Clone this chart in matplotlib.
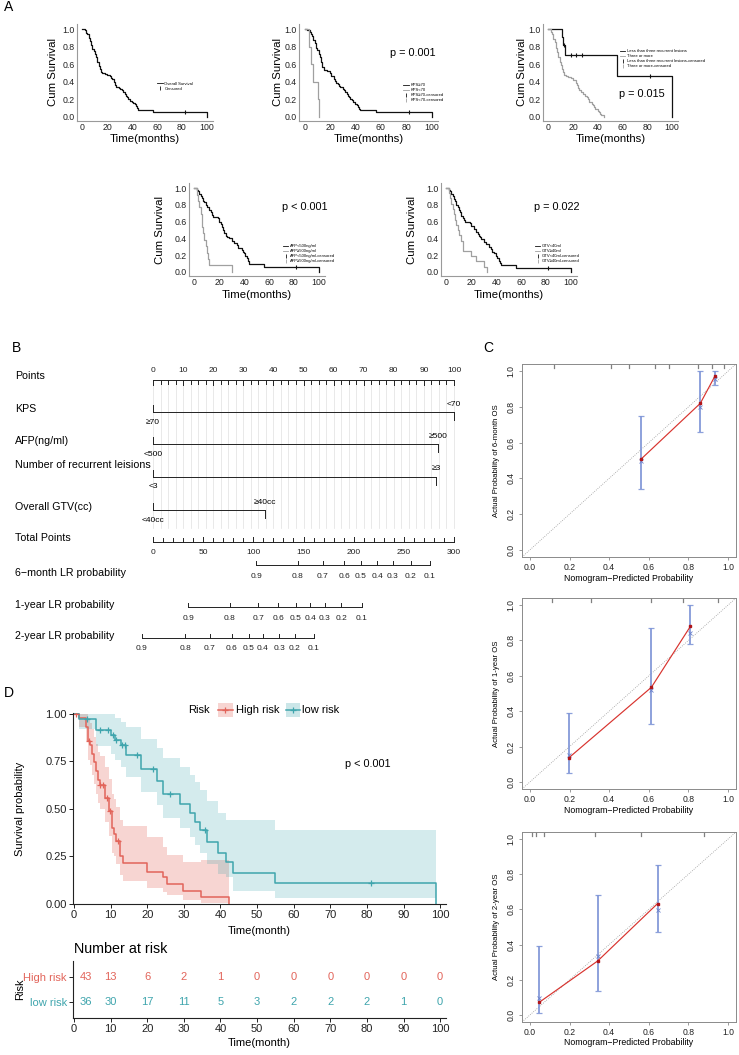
import numpy as np
import matplotlib
matplotlib.use('Agg')
import matplotlib.pyplot as plt
from matplotlib.lines import Line2D
from matplotlib.patches import Rectangle

plt.rcParams['font.family'] = ['Liberation Sans', 'DejaVu Sans']

# ------------------------------------------------------------------ data
# Panel A: Kaplan-Meier curves (time in months, survival)
os_t = [0, 2, 3, 4, 5, 6, 7, 8, 9, 10, 11, 12, 13, 14, 15, 16, 18, 20, 22, 23, 24, 25, 26, 27, 29, 30,
        32, 33, 34, 35, 36, 37, 38, 40, 41, 42, 43, 44, 45, 57, 100]
os_s = [1.0, 0.99, 0.96, 0.94, 0.90, 0.86, 0.82, 0.77, 0.75, 0.72, 0.68, 0.63, 0.58, 0.54, 0.51, 0.50, 0.49,
        0.48, 0.47, 0.44, 0.43, 0.40, 0.36, 0.34, 0.33, 0.32, 0.30, 0.28, 0.26, 0.24, 0.22, 0.20, 0.18, 0.17,
        0.16, 0.14, 0.12, 0.10, 0.075, 0.05, 0.0]
os_cens = [82.5]

kps_hi_t = [0, 2, 4, 5, 6, 7, 8, 9, 10, 11, 12, 13, 14, 15, 18, 20, 21, 22, 23, 24, 25, 26, 27, 28, 30, 31,
            32, 33, 34, 35, 36, 37, 38, 40, 41, 42, 43, 44, 56, 100]
kps_hi_s = [1.0, 0.99, 0.97, 0.95, 0.92, 0.88, 0.84, 0.79, 0.76, 0.72, 0.68, 0.63, 0.57, 0.53, 0.52, 0.50,
            0.47, 0.46, 0.43, 0.41, 0.38, 0.37, 0.35, 0.34, 0.32, 0.30, 0.28, 0.26, 0.24, 0.22, 0.20, 0.19,
            0.17, 0.15, 0.13, 0.11, 0.09, 0.08, 0.053, 0.0]
kps_hi_cens = [82]
kps_lo_t = [0, 3.5, 5.4, 6.7, 10.7, 11.5]
kps_lo_s = [1.0, 0.8, 0.6, 0.4, 0.2, 0.0]

les_lo_t = [0, 10.8, 12.0, 13.8, 55.4, 100]
les_lo_s = [1.0, 0.91, 0.82, 0.71, 0.465, 0.0]
les_lo_cens = [12.4, 18, 22.7, 26.8, 82]
les_hi_t = [0, 2, 3, 4, 5, 6, 7, 8, 9, 10, 11, 12, 13, 14, 16, 18, 20, 22, 23, 24, 25, 26, 28, 30, 31, 32,
            33, 35, 36, 37, 38, 40, 41, 42, 43, 45]
les_hi_s = [1.0, 0.97, 0.94, 0.89, 0.85, 0.79, 0.74, 0.68, 0.63, 0.59, 0.55, 0.51, 0.48, 0.46, 0.45, 0.44,
            0.42, 0.39, 0.36, 0.33, 0.30, 0.28, 0.26, 0.24, 0.22, 0.20, 0.17, 0.15, 0.13, 0.11, 0.09, 0.07,
            0.05, 0.03, 0.015, 0.0]

afp_lo_t = [0, 2, 3, 4, 5, 6, 7, 8, 9, 10, 12, 13, 14, 15, 17, 19, 20, 21, 22, 23, 24, 25, 26, 28, 30, 32,
            34, 35, 36, 38, 39, 40, 41, 42, 43, 44, 56, 100]
afp_lo_s = [1.0, 0.98, 0.96, 0.93, 0.91, 0.88, 0.85, 0.83, 0.80, 0.77, 0.74, 0.71, 0.68, 0.66, 0.65, 0.64,
            0.60, 0.57, 0.54, 0.50, 0.46, 0.43, 0.42, 0.40, 0.37, 0.34, 0.32, 0.29, 0.28, 0.26, 0.24, 0.22,
            0.19, 0.16, 0.13, 0.09, 0.06, 0.0]
afp_lo_cens = [82]
afp_hi_t = [0, 2, 3, 4, 5, 6, 7, 8, 9, 10, 11, 12, 30]
afp_hi_s = [1.0, 0.92, 0.85, 0.77, 0.69, 0.54, 0.46, 0.38, 0.31, 0.23, 0.15, 0.077, 0.0]

gtv_lo_t = [0, 2, 3, 4, 5, 6, 7, 8, 9, 10, 11, 12, 13, 14, 15, 17, 19, 20, 22, 24, 25, 26, 27, 28, 30, 32,
            34, 36, 37, 38, 40, 41, 42, 43, 44, 56, 100]
gtv_lo_s = [1.0, 0.98, 0.96, 0.93, 0.90, 0.87, 0.84, 0.80, 0.77, 0.74, 0.71, 0.67, 0.64, 0.62, 0.60, 0.59,
            0.58, 0.55, 0.51, 0.48, 0.45, 0.43, 0.41, 0.39, 0.36, 0.33, 0.30, 0.27, 0.24, 0.22, 0.19, 0.16,
            0.13, 0.10, 0.08, 0.05, 0.0]
gtv_lo_cens = [82]
gtv_hi_t = [0, 2, 3, 4, 5, 6, 7, 8, 9, 10, 12, 13, 20, 24, 30, 33]
gtv_hi_s = [1.0, 0.94, 0.88, 0.81, 0.75, 0.69, 0.62, 0.56, 0.50, 0.44, 0.37, 0.25, 0.19, 0.125, 0.06, 0.0]

# Panel B: nomogram
points_ticks = [0, 10, 20, 30, 40, 50, 60, 70, 80, 90, 100]
nomo_vars = ['KPS', 'AFP(ng/ml)', 'Number of recurrent leisions', 'Overall GTV(cc)']
var_points = [[0, 100], [0, 94.7], [0, 94.0], [0, 37.1]]
var_levels = [['≥70', '<70'], ['<500', '≥500'], ['<3', '≥3'], ['<40cc', '≥40cc']]
total_ticks = [0, 50, 100, 150, 200, 250, 300]
prob_rows = ['6−month LR probability', '1-year LR probability', '2-year LR probability']
prob_labels = ['0.9', '0.8', '0.7', '0.6', '0.5', '0.4', '0.3', '0.2', '0.1']
prob_total = [[103, 144.5, 169.4, 190.4, 207.3, 223.3, 239.2, 257.1, 276.1],
              [34.9, 76.7, 104.7, 124.6, 142.5, 156.5, 171.4, 187.4, 208.3],
              [-11, 31.9, 56.8, 78.7, 95.7, 109.6, 125.6, 141.5, 160.5]]

# Panel C: calibration
cal_names = ['6-month', '1-year', '2-year']
cal_pred = [[0.563, 0.86, 0.935], [0.197, 0.613, 0.81], [0.046, 0.342, 0.644]]
cal_obs = [[0.51, 0.82, 0.975], [0.137, 0.535, 0.88], [0.071, 0.307, 0.633]]
cal_lo = [[0.34, 0.66, 0.92], [0.05, 0.33, 0.78], [0.013, 0.137, 0.473]]
cal_hi = [[0.75, 1.0, 1.0], [0.39, 0.87, 1.0], [0.39, 0.68, 0.85]]
cal_km = [[0.50, 0.80, 0.955], [0.155, 0.52, 0.84], [0.094, 0.336, 0.598]]
cal_rug = [[0.12, 0.41, 0.50, 0.63, 0.70, 0.85, 0.92, 0.98],
           [0.11, 0.31, 0.61, 0.77, 0.95],
           [0.01, 0.03, 0.07, 0.33, 0.56, 0.88]]

# Panel D: risk groups
high_t = [0, 1.5, 3.3, 3.8, 4.5, 5.0, 5.5, 6.0, 6.5, 7.0, 8.5, 9.5, 10.5, 10.9, 11.4, 12.6, 13.4, 19.9,
          24.4, 25.3, 29.7, 34.6, 42.3]
high_s = [1.0, 0.977, 0.93, 0.86, 0.837, 0.79, 0.745, 0.70, 0.65, 0.628, 0.56, 0.49, 0.40, 0.37, 0.33,
          0.25, 0.215, 0.17, 0.14, 0.105, 0.07, 0.035, 0.0]
high_lo = [1.0, 0.93, 0.86, 0.76, 0.73, 0.68, 0.63, 0.58, 0.53, 0.50, 0.43, 0.36, 0.27, 0.25, 0.21, 0.15,
           0.12, 0.085, 0.065, 0.045, 0.02, 0.005, 0.0]
high_hi = [1.0, 1.0, 1.0, 0.97, 0.95, 0.92, 0.88, 0.84, 0.80, 0.78, 0.72, 0.66, 0.58, 0.55, 0.51, 0.44,
           0.41, 0.35, 0.30, 0.26, 0.22, 0.23, 0.0]
high_cens = [0.5, 4.2, 7.1, 8.0, 8.9, 9.8, 12.0]
low_t = [0, 1.5, 6.1, 10.2, 11.1, 12.8, 14.3, 18.4, 22.8, 24.4, 29.0, 31.7, 33.1, 34.3, 36.4, 39.4, 41.5,
         43.5, 55.0, 99.0]
low_s = [1.0, 0.972, 0.917, 0.89, 0.862, 0.835, 0.786, 0.71, 0.645, 0.577, 0.526, 0.477, 0.433, 0.389,
         0.328, 0.27, 0.22, 0.165, 0.11, 0.0]
low_lo = [1.0, 0.92, 0.83, 0.79, 0.76, 0.72, 0.67, 0.59, 0.52, 0.45, 0.40, 0.35, 0.31, 0.27, 0.21, 0.16,
          0.14, 0.07, 0.03, 0.0]
low_hi = [1.0, 1.0, 1.0, 1.0, 0.98, 0.96, 0.93, 0.87, 0.82, 0.77, 0.72, 0.68, 0.64, 0.60, 0.54, 0.48,
          0.44, 0.44, 0.39, 0.0]
low_cens = [3.6, 7.1, 9.4, 10.7, 11.6, 13.2, 13.9, 17.2, 21.7, 26.2, 35.8, 81.1]
risk_times = [0, 10, 20, 30, 40, 50, 60, 70, 80, 90, 100]
risk_high = [43, 13, 6, 2, 1, 0, 0, 0, 0, 0, 0]
risk_low = [36, 30, 17, 11, 5, 3, 2, 2, 2, 1, 0]

# ------------------------------------------------------------------ layout helpers
W, H = 739, 1055
fig = plt.figure(figsize=(W / 100, H / 100), dpi=100)


def add_ax(l, t, r, b):
    return fig.add_axes([l / W, 1 - b / H, (r - l) / W, (b - t) / H])


def ftext(x, y, s, **kw):
    fig.text(x / W, 1 - y / H, s, **kw)


def step_at(t_arr, s_arr, x):
    idx = np.searchsorted(np.asarray(t_arr, float), np.asarray(x, float), side='right') - 1
    return np.asarray(s_arr, float)[idx]


RED = '#E2645A'
TEAL = '#3FA5AD'
DARK = '#111111'
LIGHT = '#A0A0A0'

# ------------------------------------------------------------------ panel labels
for lab, x, y in [('A', 4, 7), ('B', 12, 348), ('C', 483, 348), ('D', 4, 693)]:
    ftext(x, y, lab, fontsize=10, ha='left', va='center')

# ------------------------------------------------------------------ panel A


def km_small(box, curves, leg_labels, leg_handles, leg_xy, pval=None, pval_xy=None, ylab_x=-0.17, xlab_y=-0.19):
    ax = add_ax(*box)
    ax.set_xlim(-4.4, 105)
    ax.set_ylim(-0.05, 1.06)
    for tt, ss, cens, col in curves:
        ax.step(tt, ss, where='post', color=col, lw=0.9)
        if cens:
            ax.plot(cens, step_at(tt, ss, cens), ls='none', marker='|', ms=3.2, mew=0.8, color=col)
    for sp in ['top', 'right']:
        ax.spines[sp].set_visible(False)
    for sp in ['left', 'bottom']:
        ax.spines[sp].set_color('#9A9A9A')
        ax.spines[sp].set_linewidth(0.8)
    ax.set_xticks([0, 20, 40, 60, 80, 100])
    ax.set_yticks([0, 0.2, 0.4, 0.6, 0.8, 1.0])
    ax.set_yticklabels(['0.0', '0.2', '0.4', '0.6', '0.8', '1.0'])
    ax.tick_params(length=0, labelsize=6.3, pad=1.5, colors='#222222')
    ax.text(ylab_x, 0.5, 'Cum Survival', rotation=90, fontsize=8.2, ha='center', va='center',
            transform=ax.transAxes)
    ax.text(0.5, xlab_y, 'Time(months)', fontsize=8.2, ha='center', va='center', transform=ax.transAxes)
    ax.legend(leg_handles, leg_labels, loc='center left', bbox_to_anchor=leg_xy, fontsize=3.0,
              frameon=False, handlelength=1.3, handletextpad=0.4, labelspacing=0.25, borderpad=0,
              borderaxespad=0)
    if pval:
        ax.text(pval_xy[0], pval_xy[1], pval, fontsize=7.8, ha='center', va='center', transform=ax.transAxes)
    return ax


def h_line(c):
    return Line2D([], [], color=c, lw=0.6)


def h_cens(c):
    return Line2D([], [], color=c, ls='none', marker='|', ms=3, mew=0.6)


km_small((77, 24, 213, 121), [(os_t, os_s, os_cens, DARK)],
         ['Overall Survival', 'Censored'], [h_line(DARK), h_cens(DARK)], (0.59, 0.36), ylab_x=-0.175)
km_small((299, 24, 438, 121), [(kps_hi_t, kps_hi_s, kps_hi_cens, DARK), (kps_lo_t, kps_lo_s, [], LIGHT)],
         ['KPS≥70', 'KPS<70', 'KPS≥70-censored', 'KPS<70-censored'],
         [h_line(DARK), h_line(LIGHT), h_cens(DARK), h_cens(LIGHT)], (0.75, 0.29),
         'p = 0.001', (0.82, 0.70), ylab_x=-0.15)
km_small((543, 24, 678, 121), [(les_lo_t, les_lo_s, les_lo_cens, DARK), (les_hi_t, les_hi_s, [], LIGHT)],
         ['Less than three recurrent lesions', 'Three or more',
          'Less than three recurrent lesions-censored', 'Three or more-censored'],
         [h_line(DARK), h_line(LIGHT), h_cens(DARK), h_cens(LIGHT)], (0.57, 0.64),
         'p = 0.015', (0.73, 0.28), ylab_x=-0.155)
km_small((189, 183, 325, 276), [(afp_lo_t, afp_lo_s, afp_lo_cens, DARK), (afp_hi_t, afp_hi_s, [], LIGHT)],
         ['AFP<500ng/ml', 'AFP≥500ng/ml', 'AFP<500ng/ml-censored', 'AFP≥500ng/ml-censored'],
         [h_line(DARK), h_line(LIGHT), h_cens(DARK), h_cens(LIGHT)], (0.69, 0.24),
         'p < 0.001', (0.85, 0.74), ylab_x=-0.21, xlab_y=-0.2)
km_small((441, 183, 577, 276), [(gtv_lo_t, gtv_lo_s, gtv_lo_cens, DARK), (gtv_hi_t, gtv_hi_s, [], LIGHT)],
         ['GTV<40ml', 'GTV≥40ml', 'GTV<40ml-censored', 'GTV≥40ml-censored'],
         [h_line(DARK), h_line(LIGHT), h_cens(DARK), h_cens(LIGHT)], (0.69, 0.24),
         'p = 0.022', (0.85, 0.74), ylab_x=-0.21, xlab_y=-0.2)

# ------------------------------------------------------------------ panel B (nomogram)
X0, SC = 153, 3.01          # pixel of 0 points, pixels per point
nax = add_ax(0, 330, 520, 660)
nax.set_xlim((0 - X0) / SC, (520 - X0) / SC)
nax.set_ylim(660, 330)
nax.axis('off')
LW = 0.7
LC = '#222222'
FS_LAB = 7.7
FS_TK = 6.0

# grid
for g in np.arange(0, 100.01, 2.5):
    nax.plot([g, g], [380, 528], color='#E0E0E0', lw=0.5, zorder=0)

# Points axis
y_pts = 380
nax.text((15 - X0) / SC, 376, 'Points', fontsize=FS_LAB, ha='left', va='center')
nax.plot([0, 100], [y_pts, y_pts], color=LC, lw=LW)
for g in np.arange(0, 100.01, 2.5):
    nax.plot([g, g], [y_pts, y_pts + (5 if g % 10 == 0 else 4)], color=LC, lw=LW)
for p in points_ticks:
    nax.text(p, 371, str(p), fontsize=FS_TK, ha='center', va='center', color='#222222')

# variable rows
row_line_y = [412, 444, 477, 510]
row_lab_y = [409, 441, 465, 507]
for name, pts, levs, ly, lab_y in zip(nomo_vars, var_points, var_levels, row_line_y, row_lab_y):
    nax.text((15 - X0) / SC, lab_y, name, fontsize=FS_LAB, ha='left', va='center')
    nax.plot([pts[0], pts[1]], [ly, ly], color=LC, lw=LW)
    nax.plot([pts[0], pts[0]], [ly, ly - 7], color=LC, lw=LW)
    nax.plot([pts[1], pts[1]], [ly, ly + 8], color=LC, lw=LW)
    nax.text(pts[0], ly + 10, levs[0], fontsize=FS_TK, ha='center', va='center')
    nax.text(pts[1], ly - 8, levs[1], fontsize=FS_TK, ha='center', va='center')

# Total points
y_tot = 542
nax.text((15 - X0) / SC, 538, 'Total Points', fontsize=FS_LAB, ha='left', va='center')
nax.plot([0, 100], [y_tot, y_tot], color=LC, lw=LW)
for g in np.arange(0, 300.01, 10):
    nax.plot([g / 3, g / 3], [y_tot, y_tot - (5 if g % 50 == 0 else 4)], color=LC, lw=LW)
for tv in total_ticks:
    nax.text(tv / 3, 552, str(tv), fontsize=FS_TK, ha='center', va='center', color='#222222')

# probability rows
prob_line_y = [565, 607, 638]
prob_lab_y = [573, 605, 636]
for name, totals, ly, lab_y in zip(prob_rows, prob_total, prob_line_y, prob_lab_y):
    nax.text((15 - X0) / SC, lab_y, name, fontsize=FS_LAB, ha='left', va='center')
    xs = np.asarray(totals) / 3
    nax.plot([xs[0], xs[-1]], [ly, ly], color=LC, lw=LW)
    for x, lab in zip(xs, prob_labels):
        nax.plot([x, x], [ly, ly - 4], color=LC, lw=LW)
        nax.text(x, ly + 11, lab, fontsize=FS_TK, ha='center', va='center', color='#222222')

# ------------------------------------------------------------------ panel C (calibration)
cal_boxes = [(522, 364, 736, 557), (522, 598, 736, 789), (522, 832, 736, 1022)]
for i in range(3):
    ax = add_ax(*cal_boxes[i])
    ax.set_xlim(-0.04, 1.04)
    ax.set_ylim(-0.04, 1.04)
    ax.plot([-0.04, 1.04], [-0.04, 1.04], ls=(0, (1, 1.6)), color='#9A9A9A', lw=0.6)
    pred = np.array(cal_pred[i])
    obs = np.array(cal_obs[i])
    lo = np.array(cal_lo[i])
    hi = np.array(cal_hi[i])
    ax.errorbar(pred, obs, yerr=[obs - lo, hi - obs], fmt='none', ecolor='#8197D8', elinewidth=1.4,
                capsize=2.2, capthick=0.9, alpha=0.9)
    ax.plot(pred, cal_km[i], 'x', color='#6C83CC', ms=2.6, mew=0.6)
    ax.plot(pred, obs, color='#D8332E', lw=0.85)
    ax.plot(pred, obs, 's', color='#B0151A', ms=2.0)
    for x in cal_rug[i]:
        ax.axvline(x, ymin=0.978, ymax=1.0, color='#808080', lw=0.9)
    for sp in ax.spines.values():
        sp.set_color('#8A8A8A')
        sp.set_linewidth(0.7)
    tks = [0, 0.2, 0.4, 0.6, 0.8, 1.0]
    ax.set_xticks(tks)
    ax.set_yticks(tks)
    ax.set_xticklabels(['0.0', '0.2', '0.4', '0.6', '0.8', '1.0'])
    ax.set_yticklabels(['0.0', '0.2', '0.4', '0.6', '0.8', '1.0'], rotation=90, va='center')
    ax.tick_params(length=2.5, width=0.6, color='#8A8A8A', labelsize=6.2, pad=2, labelcolor='#222222')
    ax.text(0.5, -0.11, 'Nomogram−Predicted Probability', fontsize=6.3, ha='center', va='center',
            transform=ax.transAxes)
    ax.text(-0.118, 0.5, 'Actual Probability of %s OS' % cal_names[i], fontsize=5.6, rotation=90,
            ha='center', va='center', transform=ax.transAxes)

# ------------------------------------------------------------------ panel D (KM by risk)
kax = add_ax(73, 713, 446, 904)
XL = (-0.27, 101.6)
kax.set_xlim(*XL)
kax.set_ylim(0, 1.005)
kax.fill_between(high_t, high_lo, high_hi, step='post', color=RED, alpha=0.27, lw=0)
kax.fill_between(low_t, low_lo, low_hi, step='post', color=TEAL, alpha=0.22, lw=0)
kax.step(high_t, high_s, where='post', color=RED, lw=1.1)
kax.step(low_t, low_s, where='post', color=TEAL, lw=1.1)
kax.plot(high_cens, step_at(high_t, high_s, high_cens), ls='none', marker='+', ms=5, mew=0.9, color=RED)
kax.plot(low_cens, step_at(low_t, low_s, low_cens), ls='none', marker='+', ms=5, mew=0.9, color=TEAL)
for sp in ['top', 'right']:
    kax.spines[sp].set_visible(False)
for sp in ['left', 'bottom']:
    kax.spines[sp].set_linewidth(0.8)
    kax.spines[sp].set_color('#222222')
kax.set_xticks(risk_times)
kax.set_yticks([0, 0.25, 0.5, 0.75, 1.0])
kax.set_yticklabels(['0.00', '0.25', '0.50', '0.75', '1.00'])
kax.tick_params(length=3, width=0.7, labelsize=8, pad=1.5, colors='#222222')
kax.text(-0.142, 0.5, 'Survival probability', rotation=90, fontsize=8, ha='center', va='center',
         transform=kax.transAxes)
kax.text(0.5, -0.142, 'Time(month)', fontsize=8, ha='center', va='center', transform=kax.transAxes)
kax.text(0.79, 0.735, 'p < 0.001', fontsize=7.8, ha='center', va='center', transform=kax.transAxes)

# legend
ftext(199, 710, 'Risk', fontsize=8, ha='center', va='center')
for (x0, x1), col, lab in [((218, 233), RED, 'High risk'), ((286, 300), TEAL, 'low risk')]:
    fig.patches.append(Rectangle((x0 / W, 1 - 717 / H), (x1 - x0) / W, 14 / H, transform=fig.transFigure,
                                 facecolor=col, alpha=0.27, lw=0))
    fig.lines.append(Line2D([x0 / W, x1 / W], [1 - 710 / H, 1 - 710 / H], transform=fig.transFigure,
                            color=col, lw=1.1))
    fig.lines.append(Line2D([(x0 + x1) / 2 / W], [1 - 710 / H], transform=fig.transFigure, color=col,
                            marker='+', ms=5, mew=0.9))
    ftext(x1 + 2.5, 710, lab, fontsize=8, ha='left', va='center')

# risk table
ftext(74, 949, 'Number at risk', fontsize=10.3, ha='left', va='center')
rax = add_ax(73, 961, 446, 1018)
rax.set_xlim(*XL)
rax.set_ylim(-0.65, 1.65)
for tt, nh, nl in zip(risk_times, risk_high, risk_low):
    xpos = tt + (3.3 if tt == 0 else 0)
    rax.text(xpos, 1, str(nh), color=RED, fontsize=8, ha='center', va='center')
    rax.text(xpos, 0, str(nl), color=TEAL, fontsize=8, ha='center', va='center')
for sp in ['top', 'right']:
    rax.spines[sp].set_visible(False)
for sp in ['left', 'bottom']:
    rax.spines[sp].set_linewidth(0.8)
    rax.spines[sp].set_color('#222222')
rax.set_xticks(risk_times)
rax.set_yticks([1, 0])
rax.set_yticklabels(['High risk', 'low risk'])
for lbl, col in zip(rax.get_yticklabels(), [RED, TEAL]):
    lbl.set_color(col)
rax.tick_params(length=3, width=0.7, labelsize=8, pad=1.5, color='#222222')
rax.tick_params(axis='x', labelcolor='#222222')
rax.text(-0.142, 0.5, 'Risk', rotation=90, fontsize=8, ha='center', va='center', transform=rax.transAxes)
rax.text(0.5, -0.44, 'Time(month)', fontsize=8, ha='center', va='center', transform=rax.transAxes)

fig.savefig('out.png', dpi=100)
